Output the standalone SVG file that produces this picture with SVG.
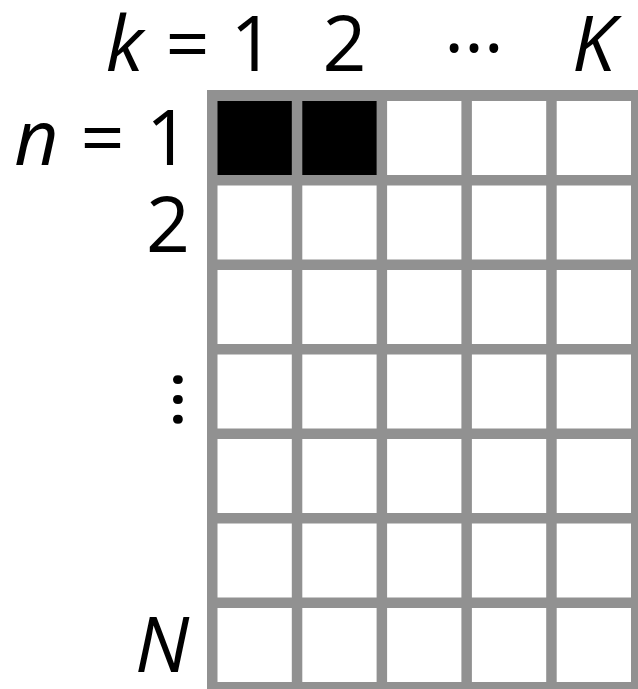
<svg xmlns="http://www.w3.org/2000/svg" width="638" height="689" viewBox="0 0 638 689">
<style>
.lbl{font-family:"Open Sans","Liberation Sans",sans-serif;fill:#000;}
.it{font-style:italic;}
.cell{fill:#ffffff;}
.on{fill:#000000;}
.grid{fill:#919191;}
</style>
<rect width="638" height="689" fill="#ffffff"/>
<g id="grid-frame"><rect class="grid" x="207" y="90" width="435" height="602"/></g>
<g id="cells">
<g id="c1-1"><rect class="on" x="217.5" y="101" width="74.3" height="74"/></g>
<g id="c1-2"><rect class="on" x="302.3" y="101" width="74.3" height="74"/></g>
<g id="c1-3"><rect class="cell" x="387.1" y="101" width="74.3" height="74"/></g>
<g id="c1-4"><rect class="cell" x="471.9" y="101" width="74.3" height="74"/></g>
<g id="c1-5"><rect class="cell" x="556.7" y="101" width="74.3" height="74"/></g>
<g id="c2-1"><rect class="cell" x="217.5" y="185.5" width="74.3" height="74"/></g>
<g id="c2-2"><rect class="cell" x="302.3" y="185.5" width="74.3" height="74"/></g>
<g id="c2-3"><rect class="cell" x="387.1" y="185.5" width="74.3" height="74"/></g>
<g id="c2-4"><rect class="cell" x="471.9" y="185.5" width="74.3" height="74"/></g>
<g id="c2-5"><rect class="cell" x="556.7" y="185.5" width="74.3" height="74"/></g>
<g id="c3-1"><rect class="cell" x="217.5" y="270" width="74.3" height="74"/></g>
<g id="c3-2"><rect class="cell" x="302.3" y="270" width="74.3" height="74"/></g>
<g id="c3-3"><rect class="cell" x="387.1" y="270" width="74.3" height="74"/></g>
<g id="c3-4"><rect class="cell" x="471.9" y="270" width="74.3" height="74"/></g>
<g id="c3-5"><rect class="cell" x="556.7" y="270" width="74.3" height="74"/></g>
<g id="c4-1"><rect class="cell" x="217.5" y="354.5" width="74.3" height="74"/></g>
<g id="c4-2"><rect class="cell" x="302.3" y="354.5" width="74.3" height="74"/></g>
<g id="c4-3"><rect class="cell" x="387.1" y="354.5" width="74.3" height="74"/></g>
<g id="c4-4"><rect class="cell" x="471.9" y="354.5" width="74.3" height="74"/></g>
<g id="c4-5"><rect class="cell" x="556.7" y="354.5" width="74.3" height="74"/></g>
<g id="c5-1"><rect class="cell" x="217.5" y="439" width="74.3" height="74"/></g>
<g id="c5-2"><rect class="cell" x="302.3" y="439" width="74.3" height="74"/></g>
<g id="c5-3"><rect class="cell" x="387.1" y="439" width="74.3" height="74"/></g>
<g id="c5-4"><rect class="cell" x="471.9" y="439" width="74.3" height="74"/></g>
<g id="c5-5"><rect class="cell" x="556.7" y="439" width="74.3" height="74"/></g>
<g id="c6-1"><rect class="cell" x="217.5" y="523.5" width="74.3" height="74"/></g>
<g id="c6-2"><rect class="cell" x="302.3" y="523.5" width="74.3" height="74"/></g>
<g id="c6-3"><rect class="cell" x="387.1" y="523.5" width="74.3" height="74"/></g>
<g id="c6-4"><rect class="cell" x="471.9" y="523.5" width="74.3" height="74"/></g>
<g id="c6-5"><rect class="cell" x="556.7" y="523.5" width="74.3" height="74"/></g>
<g id="c7-1"><rect class="cell" x="217.5" y="608" width="74.3" height="74"/></g>
<g id="c7-2"><rect class="cell" x="302.3" y="608" width="74.3" height="74"/></g>
<g id="c7-3"><rect class="cell" x="387.1" y="608" width="74.3" height="74"/></g>
<g id="c7-4"><rect class="cell" x="471.9" y="608" width="74.3" height="74"/></g>
<g id="c7-5"><rect class="cell" x="556.7" y="608" width="74.3" height="74"/></g>
</g>
<g id="col-labels" class="lbl" font-size="77">
<text class="it" x="124.5" y="71" text-anchor="middle">k</text>
<text x="187.5" y="71" text-anchor="middle">=</text>
<text x="252.5" y="71" text-anchor="middle">1</text>
<text x="344.5" y="71" text-anchor="middle">2</text>
<text x="474" y="52" text-anchor="middle">…</text>
<text class="it" x="593.5" y="71" text-anchor="middle">K</text>
</g>
<g id="row-labels" class="lbl" font-size="77">
<text class="it" x="36.5" y="165" text-anchor="middle">n</text>
<text x="102.5" y="165" text-anchor="middle">=</text>
<text x="168" y="165" text-anchor="middle">1</text>
<text x="168" y="252" text-anchor="middle">2</text>
<text x="0" y="0" text-anchor="middle" transform="translate(173.5,399.5) rotate(90)">…</text>
<text class="it" x="162" y="672" text-anchor="middle">N</text>
</g>
</svg>
